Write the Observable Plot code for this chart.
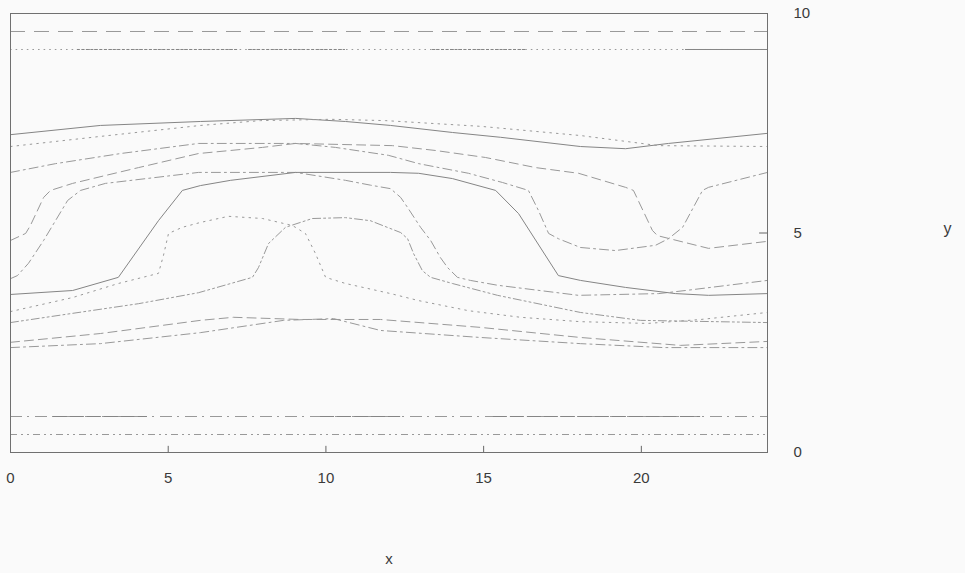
<!DOCTYPE html>
<html>
<head>
<meta charset="utf-8">
<script src="https://cdn.jsdelivr.net/npm/d3@7"></script>
<script src="https://cdn.jsdelivr.net/npm/@observablehq/plot@0.6"></script>
<style>
  html, body { margin: 0; padding: 0; background: #fafafa; }
  #chart { width: 965px; height: 573px; }
</style>
</head>
<body>
<div id="chart"></div>
<script>
// ---- tick values ----
const xTicks = [0, 5, 10, 15, 20];
const yTicks = [0, 5, 10];

// ---- curves (x in 0..24, y in 0..10) ----
const s1x = [0, 2.85, 6.02, 9.04, 10.62, 12.05, 14.01, 15.54, 18.07, 19.5, 20.86, 24];
const s1y = [7.24, 7.45, 7.54, 7.61, 7.54, 7.45, 7.29, 7.18, 6.97, 6.92, 7.04, 7.27];

const s2x = [0, 2.85, 6.02, 7.93, 10.15, 11.89, 14.9, 18.07, 20.55, 24];
const s2y = [6.97, 7.2, 7.45, 7.56, 7.59, 7.56, 7.43, 7.22, 6.99, 6.97];

const s3x = [0, 1.43, 3.49, 5.96, 9.04, 10.3, 11.98, 12.94, 14.52, 15.6, 16.42, 16.74, 17.06, 17.37, 18.07, 19.18, 20.45, 20.86, 21.31, 21.94, 22.13, 24];
const s3y = [6.38, 6.58, 6.81, 7.04, 7.04, 6.95, 6.77, 6.58, 6.36, 6.15, 5.97, 5.51, 4.99, 4.87, 4.67, 4.6, 4.72, 4.87, 5.13, 5.97, 6.04, 6.38];

const s4x = [0, 0.48, 0.63, 1.05, 1.27, 1.97, 3.01, 4.06, 5.96, 7.99, 9.04, 12.11, 13.47, 15.06, 16.65, 18.01, 19.5, 19.75, 20.35, 20.51, 22.13, 24];
const s4y = [4.83, 4.99, 5.17, 5.81, 5.97, 6.13, 6.31, 6.49, 6.81, 6.95, 7.04, 6.99, 6.88, 6.72, 6.49, 6.36, 6.04, 5.97, 5.06, 4.94, 4.65, 4.81];

const s5x = [0, 0.22, 0.57, 1.05, 1.81, 2.22, 3.01, 5.96, 9.04, 10.62, 11.41, 12.05, 12.37, 12.59, 13.0, 13.32, 13.63, 13.86, 14.17, 14.58, 15.44, 18.01, 20.55, 21.4, 24];
const s5y = [3.96, 4.03, 4.31, 4.83, 5.74, 5.97, 6.13, 6.38, 6.38, 6.2, 6.09, 6.01, 5.81, 5.58, 5.13, 4.83, 4.44, 4.21, 3.99, 3.92, 3.81, 3.58, 3.62, 3.69, 3.92];

const s6x = [0, 1.97, 3.42, 4.69, 5.45, 6.02, 6.98, 9.04, 12.05, 12.94, 14.01, 15.38, 16.11, 17.37, 18.07, 19.5, 21.08, 22.13, 24];
const s6y = [3.6, 3.69, 3.99, 5.28, 5.97, 6.08, 6.2, 6.38, 6.38, 6.36, 6.24, 5.97, 5.44, 4.03, 3.92, 3.76, 3.62, 3.58, 3.62];

const s7x = [0, 1.97, 3.42, 4.69, 4.85, 5.01, 5.45, 6.02, 6.91, 7.99, 8.94, 9.35, 9.67, 9.99, 10.62, 12.05, 12.94, 14.52, 16.17, 18.07, 20.2, 21.88, 24];
const s7y = [3.21, 3.53, 3.85, 4.08, 4.49, 4.99, 5.13, 5.24, 5.38, 5.33, 5.17, 4.99, 4.53, 3.99, 3.85, 3.62, 3.46, 3.23, 3.08, 2.98, 2.94, 3.03, 3.19];

const s8x = [0, 1.97, 4.06, 5.96, 7.67, 7.86, 8.18, 8.72, 9.57, 10.62, 11.41, 12.37, 12.59, 12.78, 13.06, 13.32, 14.01, 15.44, 18.07, 19.97, 24];
const s8y = [2.96, 3.17, 3.39, 3.64, 3.99, 4.21, 4.76, 5.13, 5.33, 5.35, 5.28, 5.01, 4.87, 4.53, 4.14, 3.99, 3.85, 3.58, 3.19, 3.01, 2.96];

const s9x = [0, 2.85, 6.02, 7.07, 9.2, 11.73, 14.9, 18.07, 21.24, 24];
const s9y = [2.51, 2.71, 3.01, 3.08, 3.03, 3.03, 2.85, 2.62, 2.44, 2.53];

const s10x = [0, 2.85, 6.02, 8.66, 10.24, 11.73, 14.9, 18.07, 20.7, 24];
const s10y = [2.39, 2.48, 2.73, 3.01, 3.05, 2.78, 2.62, 2.48, 2.39, 2.39];

// ---- constant levels ----
const levelDashed = 9.59;
const levelDotted = 9.18;
const levelDashDot = 0.82;
const levelDashDotDot = 0.41;
// denser stretches along the constant levels (x ranges)
const dottedDenseStart = [2.12, 7.55, 13.38];
const dottedDenseEnd = [7.2, 10.62, 16.33];
const dottedSolidStart = [21.4];
const dottedSolidEnd = [24];
const dashDotDenseStart = [1.36, 9.83, 15.31];
const dashDotDenseEnd = [4.34, 12.37, 21.88];

// ---- styles (not data) ----
const DASH = "9,5", DOT = "1.6,5", DASHDOT = "9,4,2,4", DASHDOTDOT = "8,3,2,3,2,3";
const GREY = "#999999", DARK = "#858585";

const rows = (xs, ys) => xs.map((x, i) => ({x, y: ys[i]}));
const segs = (a, b, lvl) => a.map((s, i) => ({x1: s, x2: b[i], y: lvl}));

const curves = [
  {xs: s1x, ys: s1y, dash: null, stroke: DARK},
  {xs: s2x, ys: s2y, dash: DOT, stroke: GREY},
  {xs: s3x, ys: s3y, dash: DASHDOT, stroke: GREY},
  {xs: s4x, ys: s4y, dash: DASH, stroke: GREY},
  {xs: s5x, ys: s5y, dash: DASHDOT, stroke: GREY},
  {xs: s6x, ys: s6y, dash: null, stroke: DARK},
  {xs: s7x, ys: s7y, dash: DOT, stroke: GREY},
  {xs: s8x, ys: s8y, dash: DASHDOTDOT, stroke: GREY},
  {xs: s9x, ys: s9y, dash: DASH, stroke: GREY},
  {xs: s10x, ys: s10y, dash: DASHDOT, stroke: GREY}
];

const chart = Plot.plot({
  width: 965,
  height: 573,
  marginLeft: 10,
  marginRight: 198,
  marginTop: 13,
  marginBottom: 121,
  style: {background: "#fafafa", fontFamily: "'Liberation Sans', Arial, sans-serif", fontSize: "15px", color: "#3a3a3a"},
  x: {domain: [0, 24], ticks: xTicks, tickSize: 0, tickPadding: 20, label: null},
  y: {domain: [0, 10], axis: "right", ticks: yTicks, tickSize: 0, tickPadding: 26, label: null},
  marks: [
    Plot.ruleY([levelDashed], {stroke: GREY, strokeWidth: 1, strokeDasharray: "15,9"}),
    Plot.ruleY([levelDotted], {stroke: GREY, strokeWidth: 1, strokeDasharray: "1.6,4"}),
    Plot.ruleY(segs(dottedDenseStart, dottedDenseEnd, levelDotted), {x1: "x1", x2: "x2", y: "y", stroke: DARK, strokeWidth: 1, strokeDasharray: "3,1.5"}),
    Plot.ruleY(segs(dottedSolidStart, dottedSolidEnd, levelDotted), {x1: "x1", x2: "x2", y: "y", stroke: DARK, strokeWidth: 1}),
    Plot.ruleY([levelDashDot], {stroke: GREY, strokeWidth: 1, strokeDasharray: "12,5,2,6"}),
    Plot.ruleY(segs(dashDotDenseStart, dashDotDenseEnd, levelDashDot), {x1: "x1", x2: "x2", y: "y", stroke: DARK, strokeWidth: 1, strokeDasharray: "14,3"}),
    Plot.ruleY([levelDashDotDot], {stroke: GREY, strokeWidth: 1, strokeDasharray: "7,4,2,4,2,4"}),
    ...curves.map(c => Plot.line(rows(c.xs, c.ys), {x: "x", y: "y", stroke: c.stroke, strokeWidth: 1, strokeDasharray: c.dash ?? undefined})),
    Plot.ruleX(xTicks, {x: d => d, y1: 0, y2: 0.14, stroke: "#666"}),
    Plot.ruleY(yTicks, {y: d => d, x1: 23.75, x2: 24, stroke: "#666"}),
    Plot.frame({stroke: "#707070"}),
    Plot.text(["x"], {frameAnchor: "bottom", dy: 111, text: d => d, fontSize: 15, fill: "#3a3a3a"}),
    Plot.text(["y"], {frameAnchor: "right", dx: 184, dy: -4, text: d => d, fontSize: 16, fill: "#3a3a3a"})
  ]
});
document.getElementById("chart").appendChild(chart);
</script>
</body>
</html>
